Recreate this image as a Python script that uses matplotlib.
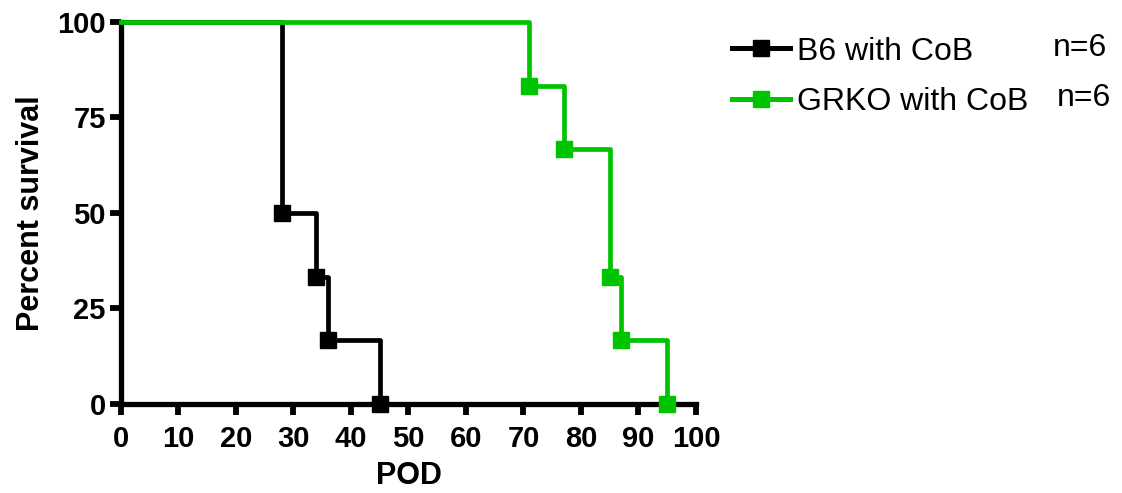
import numpy as np
import matplotlib.pyplot as plt

plt.rcParams['font.family'] = ['Liberation Sans', 'DejaVu Sans']

# Kaplan-Meier data (POD, percent survival)
b6_days = [0, 28, 34, 36, 45]
b6_surv = [100, 50, 33.33, 16.67, 0]
grko_days = [0, 71, 77, 85, 87, 95]
grko_surv = [100, 83.33, 66.67, 33.33, 16.67, 0]

labels = ['B6 with CoB', 'GRKO with CoB']
n_labels = ['n=6', 'n=6']
colors = ['black', '#00C400']
x_ticks = list(range(0, 101, 10))
y_ticks = [0, 25, 50, 75, 100]

fig = plt.figure(figsize=(11.22, 4.93), dpi=100)
ax = fig.add_axes([0.1078, 0.1805, 0.5125, 0.775])

series = [(b6_days, b6_surv), (grko_days, grko_surv)]
handles = []
for (days, surv), color, label in zip(series, colors, labels):
    # step line
    ax.plot(days, surv, drawstyle='steps-post', color=color, lw=3.4,
            clip_on=False, zorder=3)
    # markers at each event
    ax.plot(days[1:], surv[1:], ls='none', marker='s', ms=11, color=color,
            clip_on=False, zorder=4)
    h, = ax.plot([], [], color=color, lw=3.6, marker='s', ms=11, label=label)
    handles.append(h)

ax.set_xlim(0, 100)
ax.set_ylim(0, 100)
ax.set_xticks(x_ticks)
ax.set_yticks(y_ticks)
for s in ['top', 'right']:
    ax.spines[s].set_visible(False)
for s in ['left', 'bottom']:
    ax.spines[s].set_linewidth(3.8)
    ax.spines[s].set_zorder(2)
ax.tick_params(axis='both', length=8, width=4.2, labelsize=21)
ax.tick_params(axis='x', pad=7)
ax.tick_params(axis='y', pad=3)
for lab in ax.get_xticklabels() + ax.get_yticklabels():
    lab.set_fontweight('bold')

ax.set_xlabel('POD', fontsize=22, fontweight='bold', labelpad=6)
ax.set_ylabel('Percent survival', fontsize=22, fontweight='bold', labelpad=8)

leg = fig.legend(handles=handles, loc='upper left', bbox_to_anchor=(0.627, 0.984),
                 frameon=False, fontsize=23, handlelength=1.8, handletextpad=0.22,
                 labelspacing=0.65)

fig.text(0.9385, 0.903, n_labels[0], fontsize=23, va='center')
fig.text(0.942, 0.801, n_labels[1], fontsize=23, va='center')

fig.savefig('out.png', dpi=100)
